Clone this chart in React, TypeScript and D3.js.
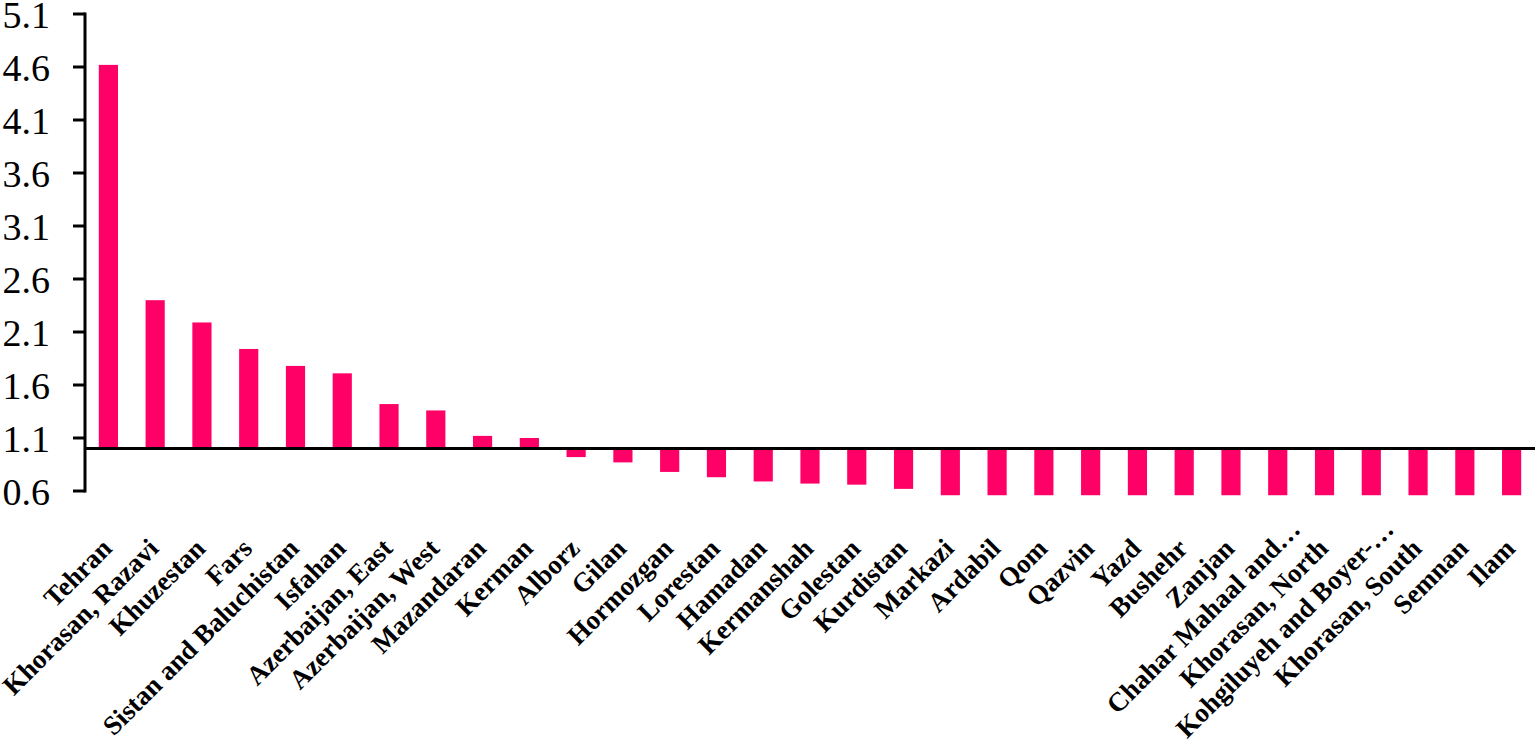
import React from "react";
import * as d3 from "d3";

const categories = [
  "Tehran", "Khorasan, Razavi", "Khuzestan", "Fars", "Sistan and Baluchistan",
  "Isfahan", "Azerbaijan, East", "Azerbaijan, West", "Mazandaran", "Kerman",
  "Alborz", "Gilan", "Hormozgan", "Lorestan", "Hamadan", "Kermanshah",
  "Golestan", "Kurdistan", "Markazi", "Ardabil", "Qom", "Qazvin", "Yazd",
  "Bushehr", "Zanjan", "Chahar Mahaal and…", "Khorasan, North",
  "Kohgiluyeh and Boyer-…", "Khorasan, South", "Semnan", "Ilam",
];

const values = [
  4.62, 2.40, 2.19, 1.94, 1.78, 1.71, 1.42, 1.36, 1.12, 1.10,
  0.92, 0.87, 0.78, 0.73, 0.69, 0.67, 0.66, 0.62, 0.56, 0.56,
  0.56, 0.56, 0.56, 0.56, 0.56, 0.56, 0.56, 0.56, 0.56, 0.56, 0.56,
];

const yTicks = [0.6, 1.1, 1.6, 2.1, 2.6, 3.1, 3.6, 4.1, 4.6, 5.1];
const baselineValue = 1.0;

export default function App() {
  const W = 1536;
  const H = 741;
  const left = 85;
  const right = 1535;
  const top = 14;
  const bottom = 491;

  const x = d3.scaleBand<string>().domain(categories).range([left, right]).paddingInner(0.59).paddingOuter(0.295);
  const y = d3.scaleLinear().domain([0.6, 5.1]).range([bottom, top]);
  const y0 = y(baselineValue);
  const font = "'Liberation Serif', 'Times New Roman', serif";

  return (
    <svg width={W} height={H} style={{ position: "absolute", left: 0, top: 0, background: "#fff" }}>
      {categories.map((c, i) => {
        const v = values[i];
        const yv = y(v);
        return (
          <rect
            key={c}
            x={x(c)}
            width={x.bandwidth()}
            y={Math.min(yv, y0)}
            height={Math.abs(yv - y0)}
            fill="#FF0066"
          />
        );
      })}
      {/* y axis */}
      <line x1={left} x2={left} y1={top - 1.5} y2={bottom + 1.5} stroke="#000" strokeWidth={3} />
      {yTicks.map((t) => (
        <g key={t}>
          <line x1={left - 12} x2={left} y1={y(t)} y2={y(t)} stroke="#000" strokeWidth={3} />
          <text
            x={50}
            y={y(t) + 1}
            textAnchor="end"
            dominantBaseline="central"
            fontFamily={font}
            fontSize={38}
            fill="#000"
          >
            {t.toFixed(1)}
          </text>
        </g>
      ))}
      {/* baseline */}
      <line x1={left} x2={right} y1={y0} y2={y0} stroke="#000" strokeWidth={3} />
      {categories.map((c) => {
        const cx = (x(c) as number) + x.bandwidth() / 2;
        const trunc = c.endsWith("…");
        const tx = trunc ? cx + 24 : cx + 5;
        const ty = trunc ? 531 : 550;
        return (
          <text
            key={"l" + c}
            transform={`translate(${tx},${ty}) rotate(-45)`}
            textAnchor="end"
            fontFamily={font}
            fontWeight="bold"
            fontSize={27}
            fill="#000"
          >
            {c}
          </text>
        );
      })}
    </svg>
  );
}
